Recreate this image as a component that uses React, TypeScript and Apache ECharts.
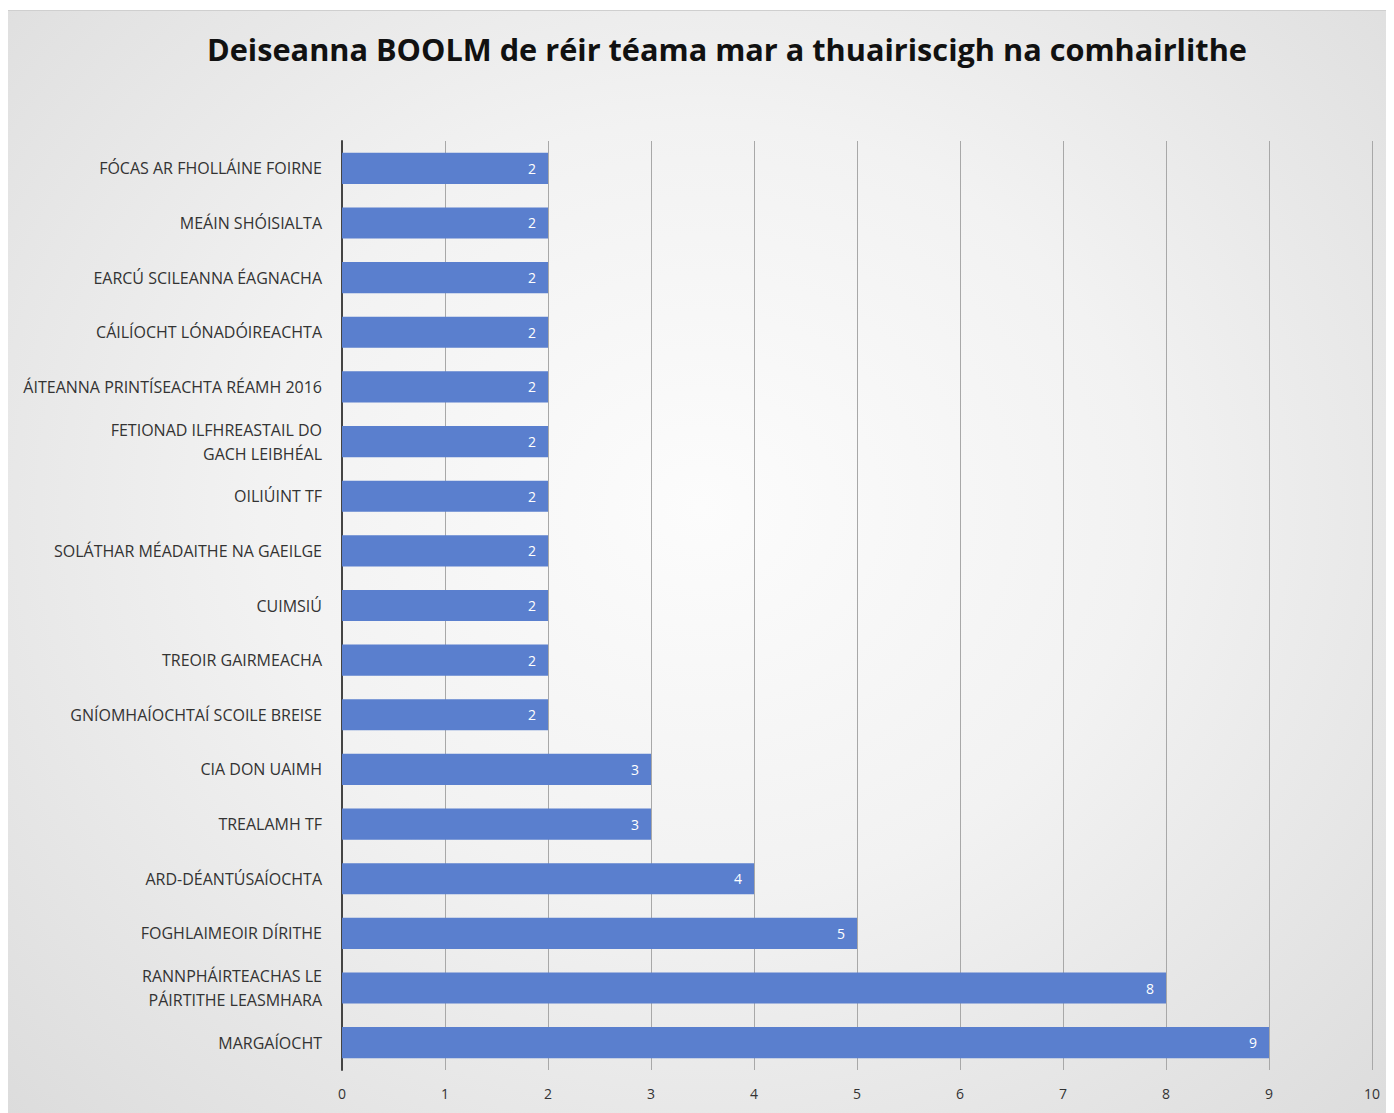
import React, { useEffect, useRef } from "react";
import * as echarts from "echarts";

const categories = [
  "FÓCAS AR FHOLLÁINE FOIRNE",
  "MEÁIN SHÓISIALTA",
  "EARCÚ SCILEANNA ÉAGNACHA",
  "CÁILÍOCHT LÓNADÓIREACHTA",
  "ÁITEANNA PRINTÍSEACHTA RÉAMH 2016",
  "FETIONAD ILFHREASTAIL DO\nGACH LEIBHÉAL",
  "OILIÚINT TF",
  "SOLÁTHAR MÉADAITHE NA GAEILGE",
  "CUIMSIÚ",
  "TREOIR GAIRMEACHA",
  "GNÍOMHAÍOCHTAÍ SCOILE BREISE",
  "CIA DON UAIMH",
  "TREALAMH TF",
  "ARD-DÉANTÚSAÍOCHTA",
  "FOGHLAIMEOIR DÍRITHE",
  "RANNPHÁIRTEACHAS LE\nPÁIRTITHE LEASMHARA",
  "MARGAÍOCHT",
];
const values = [2, 2, 2, 2, 2, 2, 2, 2, 2, 2, 2, 3, 3, 4, 5, 8, 9];
const title = "Deiseanna BOOLM de réir téama mar a thuairiscigh na comhairlithe";

export default function App() {
  const ref = useRef<HTMLDivElement>(null);
  useEffect(() => {
    if (!ref.current) return;
    const chart = echarts.init(ref.current, null, { renderer: "svg" });
    chart.setOption({
      animation: false,
      textStyle: { fontFamily: "Open Sans" },
      title: {
        text: title,
        left: 194,
        top: 17,
        textStyle: { fontSize: 30.7, fontWeight: "bold", color: "#111", fontFamily: "Open Sans" },
      },
      grid: { left: 334, right: 22, top: 130, bottom: 44 },
      xAxis: {
        type: "value",
        min: 0,
        max: 10,
        interval: 1,
        axisLine: { show: false },
        axisTick: { show: false },
        splitLine: { show: true, lineStyle: { color: "#a8a8a8", width: 1 } },
        axisLabel: { color: "#333", fontSize: 14, margin: 16 },
      },
      yAxis: {
        type: "category",
        data: categories,
        inverse: true,
        axisLine: { show: true, lineStyle: { color: "#444", width: 2 } },
        axisTick: { show: false },
        axisLabel: { color: "#333", fontSize: 16, lineHeight: 24, margin: 20 },
      },
      series: [
        {
          type: "bar",
          data: values,
          barCategoryGap: "43%",
          itemStyle: { color: "#5a7fce" },
          label: {
            show: true,
            position: "insideRight",
            distance: 12,
            color: "#fff",
            fontSize: 14,
          },
        },
      ],
    });
    return () => chart.dispose();
  }, []);
  return (
    <div
      ref={ref}
      style={{
        width: 1386,
        height: 1103,
        marginTop: 2,
        borderTop: "1px solid #cfcfcf",
        background:
          "radial-gradient(ellipse at 50% 45%, #fcfcfc 0%, #f2f2f2 45%, #dcdcdc 100%)",
      }}
    />
  );
}
